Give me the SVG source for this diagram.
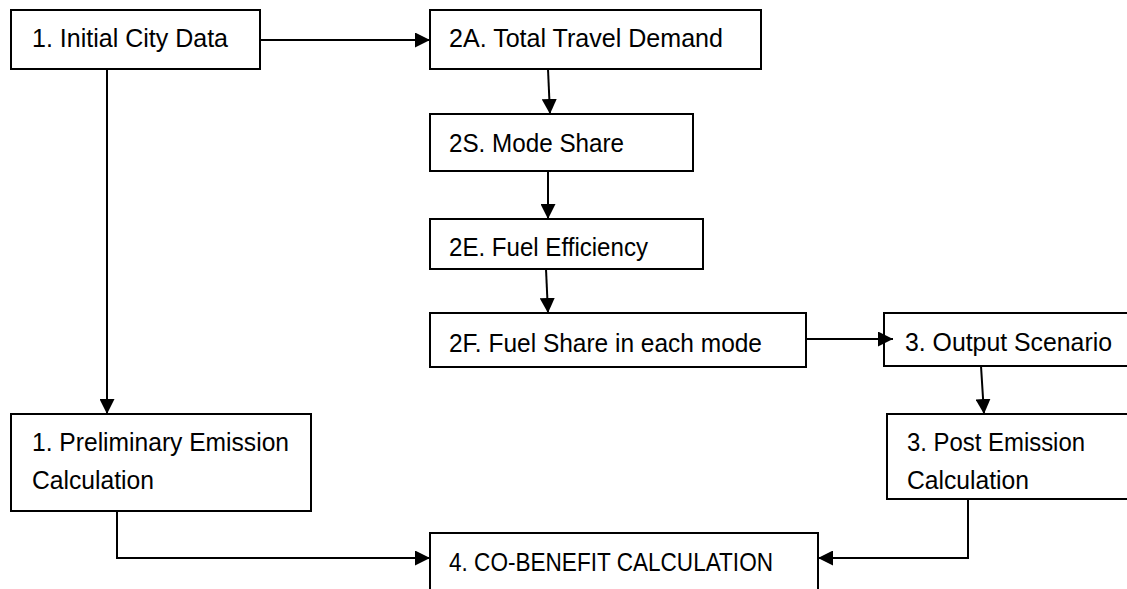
<svg xmlns="http://www.w3.org/2000/svg" width="1127" height="589" viewBox="0 0 1127 589">
<style>
.box{fill:#fff;stroke:#000;stroke-width:2}
.t{font-family:"Liberation Sans",Arial,sans-serif;font-size:25px;fill:#000}
.c{fill:none;stroke:#000;stroke-width:2;marker-end:url(#ah)}
</style>
<defs>
<marker id="ah" markerUnits="userSpaceOnUse" markerWidth="15" markerHeight="15" refX="15" refY="7.5" orient="auto">
<path d="M0,0 L15,7.5 L0,15 z" fill="#000"/>
</marker>
</defs>
<rect width="1127" height="589" fill="#fff"/>
<g id="n1"><rect class="box" x="11" y="10" width="249" height="59"/><text class="t" x="32" y="47" textLength="196" lengthAdjust="spacingAndGlyphs">1. Initial City Data</text></g>
<g id="n2A"><rect class="box" x="430" y="10" width="331" height="59"/><text class="t" x="449" y="47" textLength="274" lengthAdjust="spacingAndGlyphs">2A. Total Travel Demand</text></g>
<g id="n2S"><rect class="box" x="430" y="114" width="263" height="57"/><text class="t" x="449" y="152" textLength="175" lengthAdjust="spacingAndGlyphs">2S. Mode Share</text></g>
<g id="n2E"><rect class="box" x="430" y="219" width="273" height="50"/><text class="t" x="449" y="256" textLength="199" lengthAdjust="spacingAndGlyphs">2E. Fuel Efficiency</text></g>
<g id="n2F"><rect class="box" x="430" y="313" width="376" height="54"/><text class="t" x="449" y="352" textLength="313" lengthAdjust="spacingAndGlyphs">2F. Fuel Share in each mode</text></g>
<g id="n3out"><rect class="box" x="884" y="313" width="260" height="53"/><text class="t" x="905" y="351" textLength="207" lengthAdjust="spacingAndGlyphs">3. Output Scenario</text></g>
<g id="n3post"><rect class="box" x="887" y="414" width="260" height="85"/><text class="t" x="907" y="451" textLength="178" lengthAdjust="spacingAndGlyphs">3. Post Emission</text><text class="t" x="907" y="489" textLength="122" lengthAdjust="spacingAndGlyphs">Calculation</text></g>
<g id="n1pre"><rect class="box" x="11" y="414" width="300" height="97"/><text class="t" x="32" y="451" textLength="257" lengthAdjust="spacingAndGlyphs">1. Preliminary Emission</text><text class="t" x="32" y="489" textLength="122" lengthAdjust="spacingAndGlyphs">Calculation</text></g>
<g id="n4"><rect class="box" x="430" y="533" width="388" height="70"/><text class="t" x="449" y="571" textLength="324" lengthAdjust="spacingAndGlyphs">4. CO-BENEFIT CALCULATION</text></g>
<g id="connectors">
<path class="c" d="M260,40 H430"/>
<path class="c" d="M107,69 V414"/>
<path class="c" d="M548,69 L550,114"/>
<path class="c" d="M548,171 V219"/>
<path class="c" d="M546,269 L548,313"/>
<path class="c" d="M806,339 H893"/>
<path class="c" d="M981,366 L984,414"/>
<path class="c" d="M117,511 V558 H430"/>
<path class="c" d="M968,499 V558 H818"/>
</g>
</svg>
